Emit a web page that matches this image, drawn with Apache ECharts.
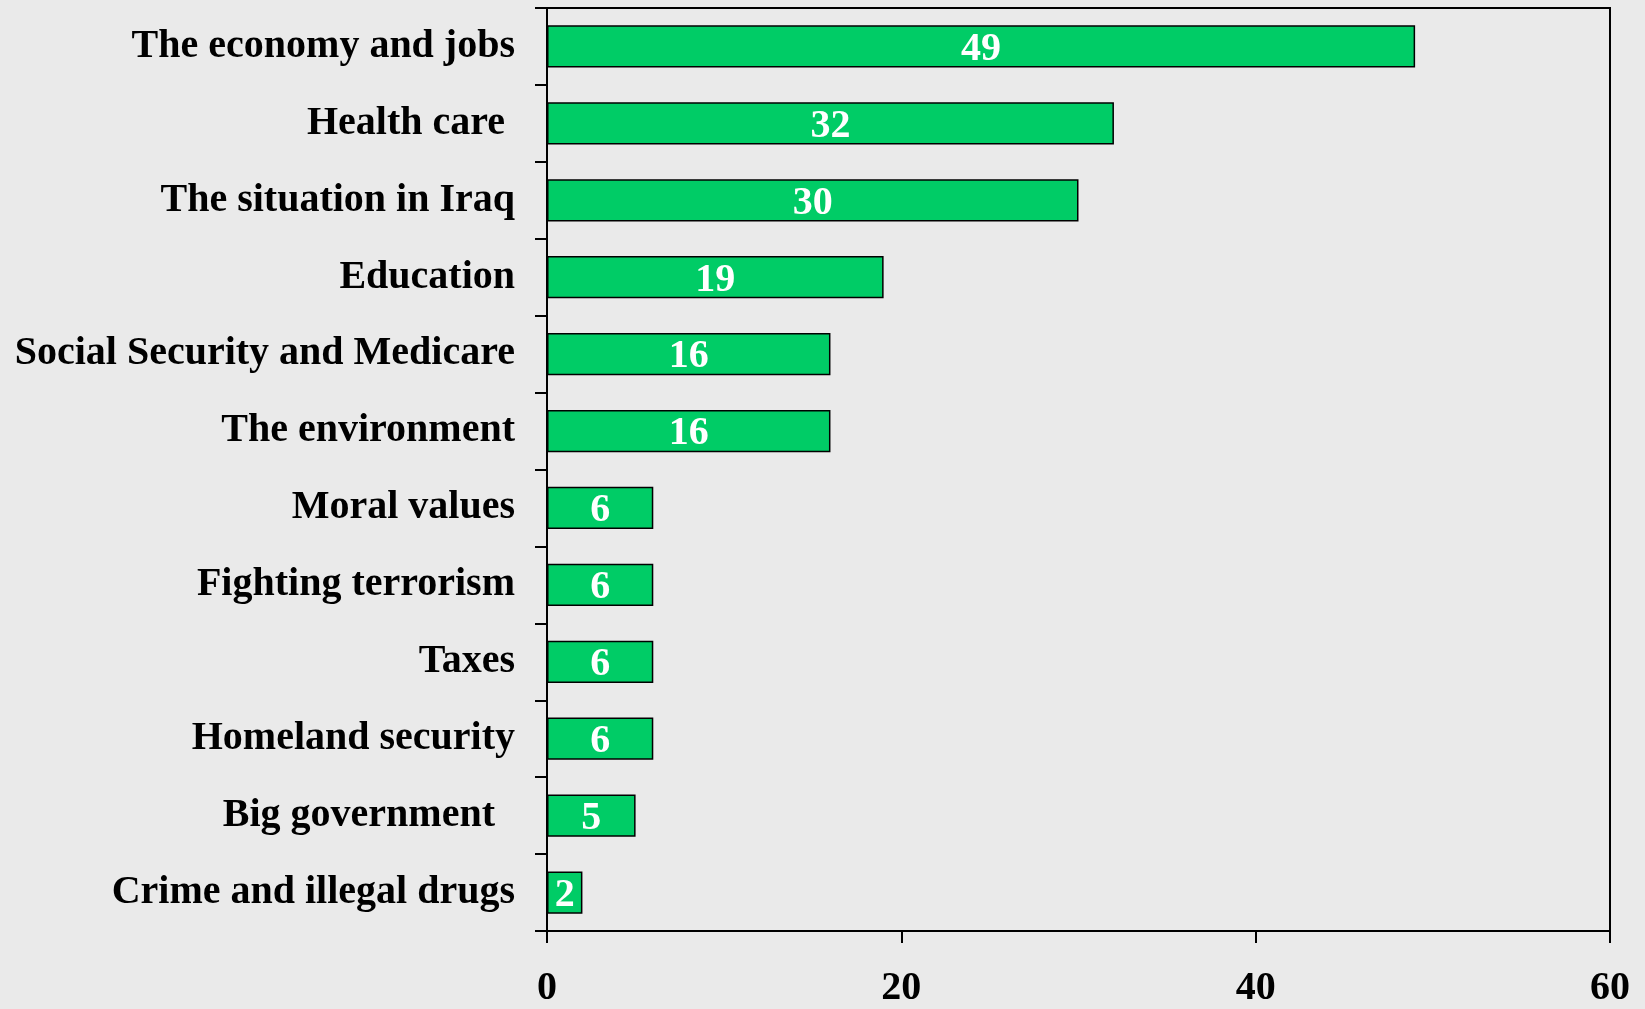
<!DOCTYPE html>
<html><head><meta charset="utf-8">
<script src="https://cdn.jsdelivr.net/npm/echarts@6/dist/echarts.min.js"></script>
<style>html,body{margin:0;padding:0;background:#EAEAEA;}#c{width:1645px;height:1009px;}</style>
</head><body><div id="c"></div>
<script>
var categories = ["The economy and jobs","Health care ","The situation in Iraq","Education","Social Security and Medicare","The environment","Moral values","Fighting terrorism","Taxes","Homeland security","Big government  ","Crime and illegal drugs"];
var values = [49,32,30,19,16,16,6,6,6,6,5,2];
var xTicks = {min:0, max:60, interval:20};

var font = 'Liberation Serif, Times New Roman, serif';
var chart = echarts.init(document.getElementById('c'), null, {renderer:'canvas'});
chart.setOption({
  backgroundColor:'#EAEAEA',
  animation:false,
  grid:{left:547, right:35, top:8, bottom:75, show:true, borderColor:'#000', borderWidth:2, backgroundColor:'transparent', containLabel:false},
  xAxis:{type:'value', min:xTicks.min, max:xTicks.max, interval:xTicks.interval,
    axisLine:{show:true, lineStyle:{color:'#000', width:2}},
    axisTick:{show:true, length:12, lineStyle:{color:'#000', width:2}},
    splitLine:{show:false},
    axisLabel:{color:'#000', fontFamily:font, fontWeight:'bold', fontSize:40, margin:38}},
  yAxis:{type:'category', data:categories, inverse:true,
    axisLine:{show:true, lineStyle:{color:'#000', width:2}},
    axisTick:{show:true, length:12, alignWithLabel:false, lineStyle:{color:'#000', width:2}},
    axisLabel:{color:'#000', fontFamily:font, fontWeight:'bold', fontSize:40, margin:32}},
  series:[{type:'bar', data:values, barCategoryGap:'45%',
    itemStyle:{color:'#00CC66', borderColor:'#000', borderWidth:1.5},
    label:{show:true, position:'inside', offset:[0,3], color:'#fff', fontFamily:font, fontWeight:'bold', fontSize:40}}]
});
</script></body></html>
